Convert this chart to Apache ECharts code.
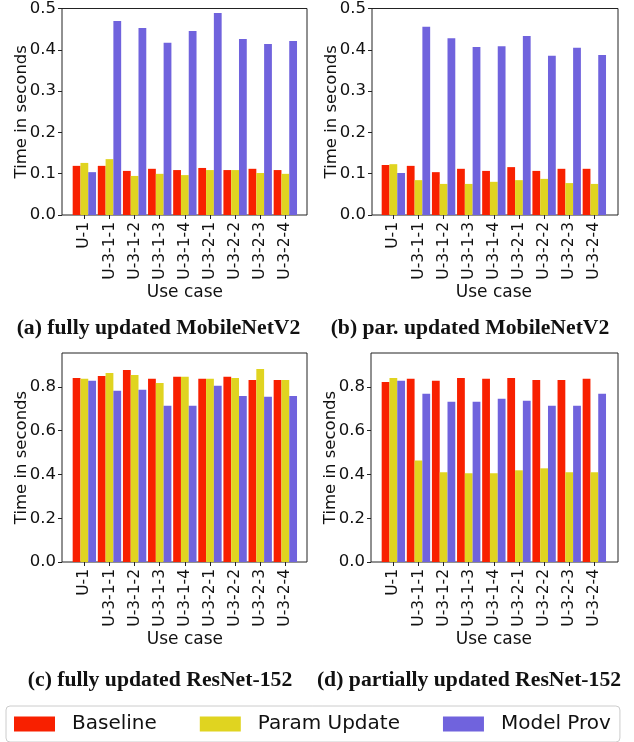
<!DOCTYPE html>
<html>
<head>
<meta charset="utf-8">
<script src="https://cdn.jsdelivr.net/npm/echarts@6/dist/echarts.min.js"></script>
<style>
html,body{margin:0;padding:0;background:#fff;}
#chart{width:634px;height:742px;}
</style>
</head>
<body>
<div id="chart"></div>
<script>
const categories = ['U-1','U-3-1-1','U-3-1-2','U-3-1-3','U-3-1-4','U-3-2-1','U-3-2-2','U-3-2-3','U-3-2-4'];
const seriesNames = ['Baseline','Param Update','Model Prov'];

const mobileFullBaseline = [0.117,0.117,0.105,0.110,0.107,0.112,0.107,0.110,0.107];
const mobileFullParam    = [0.124,0.133,0.093,0.098,0.095,0.107,0.107,0.100,0.098];
const mobileFullProv     = [0.102,0.462,0.445,0.410,0.438,0.481,0.419,0.407,0.414];

const mobileParBaseline = [0.119,0.117,0.102,0.110,0.105,0.114,0.105,0.110,0.110];
const mobileParParam    = [0.121,0.083,0.074,0.074,0.079,0.083,0.086,0.076,0.074];
const mobileParProv     = [0.100,0.448,0.421,0.400,0.402,0.426,0.379,0.398,0.381];

const resFullBaseline = [0.841,0.850,0.877,0.837,0.846,0.837,0.846,0.832,0.832];
const resFullParam    = [0.837,0.864,0.855,0.818,0.846,0.837,0.841,0.882,0.832];
const resFullProv     = [0.828,0.782,0.787,0.714,0.714,0.805,0.759,0.755,0.759];

const resParBaseline = [0.823,0.837,0.828,0.841,0.837,0.841,0.832,0.832,0.837];
const resParParam    = [0.841,0.464,0.410,0.405,0.405,0.419,0.428,0.410,0.410];
const resParProv     = [0.828,0.769,0.732,0.732,0.746,0.737,0.714,0.714,0.769];

const mobileTicks = [0,0.1,0.2,0.3,0.4,0.5];
const resTicks = [0,0.2,0.4,0.6,0.8];

const captions = ['(a) fully updated MobileNetV2','(b) par. updated MobileNetV2','(c) fully updated ResNet-152','(d) partially updated ResNet-152'];
const xAxisTitle = 'Use case';
const yAxisTitle = 'Time in seconds';

const colors = ['#f82000','#e0d420','#7063dd'];
const FONT = 'DejaVu Sans';

const panels = [
  {data:[mobileFullBaseline,mobileFullParam,mobileFullProv], ticks:mobileTicks, max:0.5,
   frame:{left:62,top:5,width:245,height:210}, bars:{left:71.8,top:5,width:226.1,height:210},
   cap:{x:158.5,y:317}},
  {data:[mobileParBaseline,mobileParParam,mobileParProv], ticks:mobileTicks, max:0.5,
   frame:{left:372,top:5,width:246,height:210}, bars:{left:380.8,top:5,width:226.1,height:210},
   cap:{x:470,y:317}},
  {data:[resFullBaseline,resFullParam,resFullProv], ticks:resTicks, max:0.955,
   frame:{left:62,top:353,width:245,height:209}, bars:{left:71.8,top:353,width:226.1,height:209},
   cap:{x:160,y:669}},
  {data:[resParBaseline,resParParam,resParProv], ticks:resTicks, max:0.955,
   frame:{left:371,top:353,width:247,height:209}, bars:{left:380.8,top:353,width:226.1,height:209},
   cap:{x:469,y:669}}
];

const grid=[], xAxis=[], yAxis=[], series=[], title=[];
panels.forEach((p,k)=>{
  grid.push(Object.assign({show:true,borderColor:'#222',borderWidth:1,backgroundColor:'transparent',containLabel:false},p.frame));
  grid.push(Object.assign({show:false,containLabel:false},p.bars));
  xAxis.push({type:'value',gridIndex:2*k,show:false,min:0,max:1});
  yAxis.push({type:'value',gridIndex:2*k,min:0,max:p.max,
    axisLine:{show:false},
    splitLine:{show:false},
    axisTick:{show:true,inside:false,length:4,lineStyle:{color:'#222',width:1},customValues:p.ticks},
    axisLabel:{show:true,fontFamily:FONT,fontSize:16.5,color:'#111',margin:6,customValues:p.ticks,
      formatter:v=>Number(v).toFixed(1)},
    name:yAxisTitle,nameLocation:'middle',nameRotate:90,nameGap:32,nameMoveOverlap:false,
    nameTextStyle:{fontFamily:FONT,fontSize:16.5,color:'#111'}
  });
  xAxis.push({type:'category',gridIndex:2*k+1,data:categories,boundaryGap:true,
    axisLine:{show:false},
    axisTick:{show:true,alignWithLabel:true,length:4,lineStyle:{color:'#222',width:1}},
    axisLabel:{rotate:90,fontFamily:FONT,fontSize:15.5,color:'#111',margin:7,interval:0},
    splitLine:{show:false},
    name:xAxisTitle,nameLocation:'middle',nameGap:69,nameMoveOverlap:false,
    nameTextStyle:{fontFamily:FONT,fontSize:17,color:'#111'}
  });
  yAxis.push({type:'value',gridIndex:2*k+1,min:0,max:p.max,show:false,splitLine:{show:false}});
  p.data.forEach((arr,i)=>{
    series.push({type:'bar',name:seriesNames[i],xAxisIndex:2*k+1,yAxisIndex:2*k+1,data:arr,
      itemStyle:{color:colors[i]},barGap:'0%',barCategoryGap:'7%',animation:false});
  });
  title.push({text:captions[k],left:p.cap.x,top:p.cap.y,textAlign:'center',padding:0,
    textStyle:{fontFamily:'Liberation Serif',fontWeight:'bold',fontSize:21.7,color:'#111'}});
});

const chart = echarts.init(document.getElementById('chart'),null,{renderer:'canvas'});
chart.setOption({
  animation:false,
  color:colors,
  title:title,
  grid:grid, xAxis:xAxis, yAxis:yAxis, series:series,
  legend:{data:seriesNames,left:6,top:706,orient:'horizontal',
    icon:'rect',itemWidth:41,itemHeight:15,itemGap:43,
    padding:[8,9,8,8],borderColor:'#ccc',borderWidth:1,borderRadius:4,
    textStyle:{fontFamily:FONT,fontSize:20,color:'#111',padding:[0,0,0,12]}
  }
});
</script>
</body>
</html>
